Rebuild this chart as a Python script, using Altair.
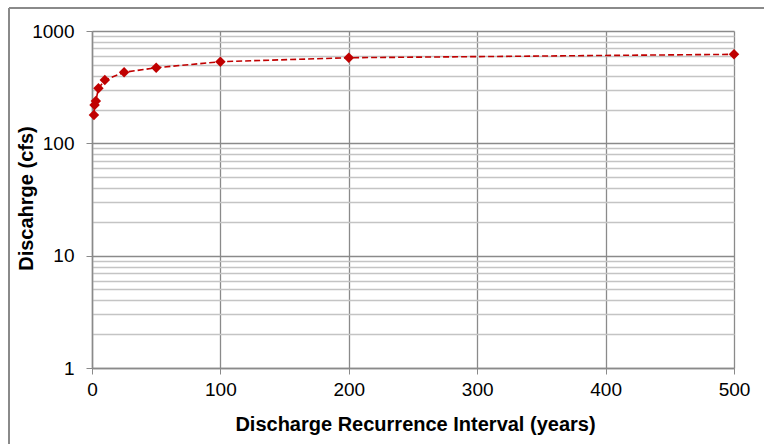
import altair as alt
import pandas as pd

# Data
interval_years = [1.5, 2, 3, 5, 10, 25, 50, 100, 200, 500]
discharge_cfs = [179, 219, 238, 309, 366, 429, 471, 533, 578, 620]

x_ticks = [0, 100, 200, 300, 400, 500]
y_major = [1, 10, 100, 1000]
y_grid = [m * d for d in [1, 10, 100] for m in range(1, 10)] + [1000]

df = pd.DataFrame({"x": interval_years, "y": discharge_cfs})

FONT = "Liberation Sans"
RED = "#c00000"
MAJOR_TEST = "indexof([1, 10, 100, 1000], datum.value) >= 0"

x_enc = alt.X(
    "x:Q",
    scale=alt.Scale(domain=[0, 500], nice=False, zero=False),
    axis=alt.Axis(
        values=x_ticks,
        title="Discharge Recurrence  Interval (years)",
        titleFont=FONT, titleFontSize=20, titleFontWeight="bold",
        titleColor="black", titleX=323, titleY=56,
        titleBaseline="middle", titleAlign="center",
        labelFont=FONT, labelFontSize=19, labelColor="black",
        labelPadding=6, tickSize=6, tickColor="#8a8a8a",
        labelFlush=False, labelOverlap=False,
        domainColor="#8a8a8a", domainWidth=1.5,
        grid=True, gridColor="#8a8a8a", gridWidth=1.3,
        format="d",
    ),
)

y_enc = alt.Y(
    "y:Q",
    scale=alt.Scale(type="log", domain=[1, 1000], nice=False),
    axis=alt.Axis(
        values=y_grid,
        title="Discahrge (cfs)",
        titleFont=FONT, titleFontSize=20, titleFontWeight="bold",
        titleColor="black", titleX=-66, titleY=167, titleAngle=270,
        titleBaseline="middle", titleAlign="center",
        labelFont=FONT, labelFontSize=19, labelColor="black",
        labelExpr="indexof([1, 10, 100, 1000], datum.value) >= 0 ? datum.label : ''",
        labelPadding=12, format="d", labelOverlap=False, labelFlush=False,
        tickSize=6,
        tickColor={"condition": {"test": MAJOR_TEST, "value": "#8a8a8a"}, "value": "transparent"},
        domainColor="#8a8a8a", domainWidth=1.5,
        grid=True,
        gridColor={"condition": {"test": MAJOR_TEST, "value": "#8a8a8a"}, "value": "#c4c4c4"},
        gridWidth=1.3,
    ),
)

line = alt.Chart(df).mark_line(
    color=RED, strokeDash=[6, 3], strokeWidth=1.6
).encode(x=x_enc, y=y_enc)

points = alt.Chart(df).mark_point(
    shape="diamond", filled=True, color=RED, size=110, opacity=1
).encode(x="x:Q", y="y:Q")

frame_left = alt.Chart(df).mark_rule(color="#8a8a8a", strokeWidth=1.2).encode(
    x=alt.value(-83), y=alt.value(-23), y2=alt.value(420)
)
frame_top = alt.Chart(df).mark_rule(color="#8a8a8a", strokeWidth=1.2).encode(
    x=alt.value(-83), x2=alt.value(700), y=alt.value(-23)
)

chart = (
    alt.layer(line, points, frame_left, frame_top)
    .properties(
        width=642, height=337,
        autosize=alt.AutoSizeParams(type="none"),
        padding={"left": 92, "top": 31, "right": 30, "bottom": 76},
        background="white",
    )
    .configure_view(stroke=None)
)

chart.save("out.html", embed_options={"renderer": "svg", "actions": False})
